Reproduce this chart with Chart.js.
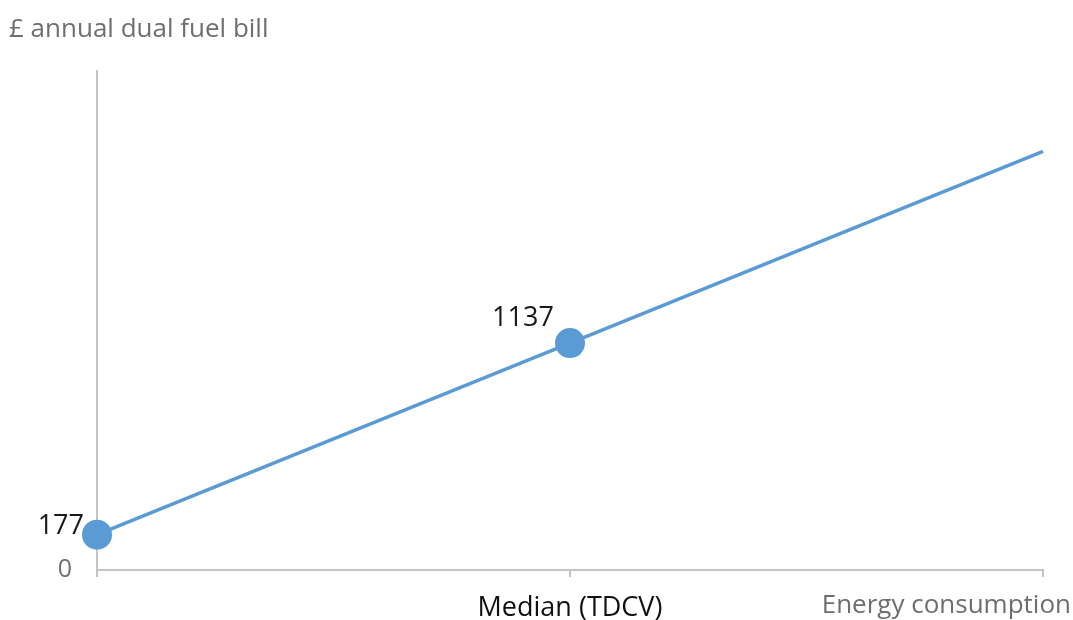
<!DOCTYPE html>
<html><head><meta charset="utf-8">
<script src="https://cdn.jsdelivr.net/npm/chart.js@4"></script>
<style>html,body{margin:0;padding:0;background:#fff}#wrap{width:1073px;height:620px}</style>
</head><body><div id="wrap"><canvas id="c" width="1073" height="620"></canvas></div>
<script>
const categories = ["", "Median (TDCV)", ""];
const xPositions = [0, 1, 2];
const billValues = [177, 1137, 2097];
const showMarker = [true, true, false];
const yAxisTitle = "£ annual dual fuel bill";
const xAxisTitle = "Energy consumption";
const FONT = "'Open Sans', sans-serif";

const labelPlugin = {
  id: 'labels',
  afterDatasetsDraw(chart) {
    const ctx = chart.ctx;
    const meta = chart.getDatasetMeta(0);
    ctx.save();
    ctx.font = "27px " + FONT;
    ctx.fillStyle = "#1a1a1a";
    ctx.textBaseline = "middle";
    let p0 = meta.data[0];
    ctx.textAlign = "right";
    ctx.fillText(String(billValues[0]), p0.x - 13, p0.y - 8);
    let p1 = meta.data[1];
    ctx.textAlign = "center";
    ctx.fillText(String(billValues[1]), p1.x - 47, p1.y - 25);
    ctx.font = "26px " + FONT;
    ctx.fillStyle = "#6e6e6e";
    ctx.textAlign = "left";
    ctx.fillText(yAxisTitle, 9, 30);
    ctx.textAlign = "right";
    ctx.fillText(xAxisTitle, 1071, 606);
    ctx.restore();
  }
};

new Chart(document.getElementById('c'), {
  type: 'line',
  data: {
    datasets: [{
      data: xPositions.map((x, i) => ({x: x, y: billValues[i]})),
      borderColor: '#5b9bd5',
      backgroundColor: '#5b9bd5',
      borderWidth: 3.5,
      pointRadius: showMarker.map(m => m ? 15 : 0),
      pointHoverRadius: showMarker.map(m => m ? 15 : 0),
      pointBorderWidth: 0,
      tension: 0,
      clip: false
    }]
  },
  options: {
    responsive: false,
    animation: false,
    devicePixelRatio: 1,
    layout: { padding: { left: 0, right: 30, top: 71, bottom: 0 } },
    plugins: { legend: { display: false }, tooltip: { enabled: false }, title: { display: false } },
    scales: {
      x: {
        type: 'linear', min: 0, max: 2,
        afterBuildTicks: s => { s.ticks = xPositions.map(v => ({value: v})); },
        afterFit: s => { s.height = 50; },
        border: { color: '#c4c4c4', width: 2 },
        grid: { drawOnChartArea: false, drawTicks: true, tickLength: 7, color: '#c4c4c4', lineWidth: 2 },
        ticks: {
          autoSkip: false, maxRotation: 0, padding: 15,
          callback: (v) => categories[v] !== undefined ? categories[v] : '',
          font: { family: FONT, size: 27 }, color: '#111'
        }
      },
      y: {
        type: 'linear', min: 0, max: 2500,
        afterBuildTicks: s => { s.ticks = [{value: 0}]; },
        afterFit: s => { s.width = 97; },
        border: { color: '#c4c4c4', width: 2 },
        grid: { display: false, drawTicks: false },
        ticks: { padding: 25, font: { family: FONT, size: 25 }, color: '#6e6e6e' }
      }
    }
  },
  plugins: [labelPlugin]
});
</script></body></html>
